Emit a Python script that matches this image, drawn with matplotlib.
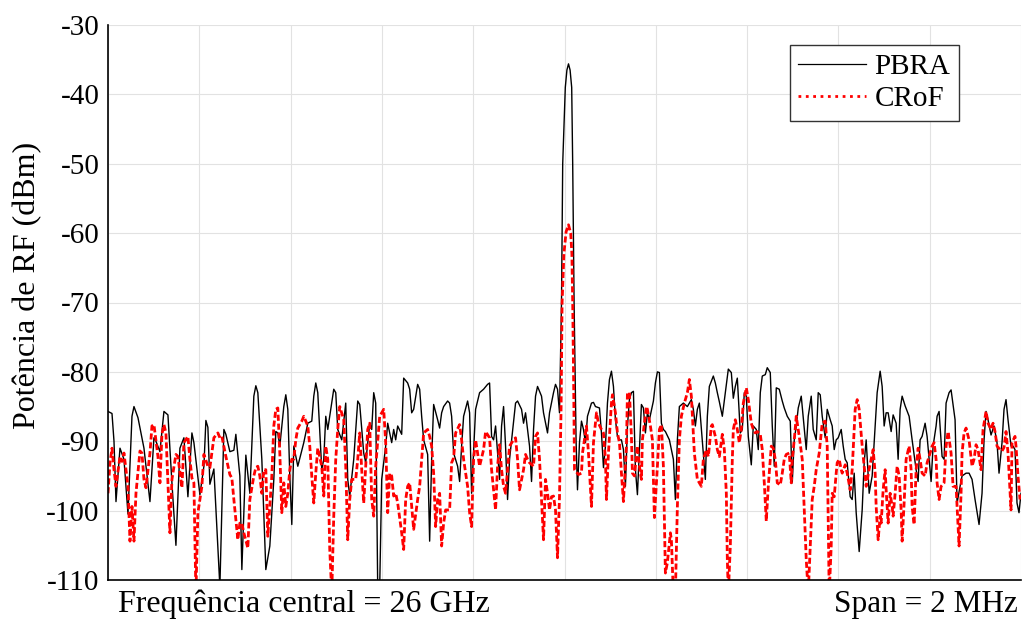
import numpy as np
import matplotlib
matplotlib.use('Agg')
import matplotlib.pyplot as plt
from matplotlib.lines import Line2D

plt.rcParams['font.family'] = ['Liberation Serif', 'DejaVu Serif']
plt.rcParams['axes.unicode_minus'] = False

# Varredura de 457 pontos em 2 MHz de span (centro 26 GHz)
n_pts = 457
span_mhz = 2.0

# PBRA: ponto da varredura / potência (dBm)
pbra_pt = [0, 2, 3, 4, 6, 8, 10, 12, 13, 15, 17, 18, 21, 23, 24, 26, 28, 30, 32, 34,
           36, 38, 40, 42, 43, 46, 48, 49, 50, 51, 53, 56, 58, 59, 61, 63, 64, 66, 67, 69,
           71, 73, 74, 75, 77, 79, 81, 83, 84, 85, 86, 88, 89, 90, 91, 92, 93, 95, 98, 100,
           102, 103, 104, 105, 107, 108, 109, 110, 111, 113, 114, 115, 117, 119, 120, 121, 123, 125, 126, 128,
           129, 131, 132, 133, 134, 135, 136, 137, 139, 140, 142, 143, 144, 145, 147, 148, 150, 151, 152, 153,
           155, 156, 157, 158, 160, 161, 162, 163, 165, 166, 167, 168, 170, 171, 172, 173, 175, 176, 177, 178,
           180, 181, 182, 184, 186, 188, 190, 191, 192, 193, 194, 196, 197, 198, 199, 200, 201, 203, 204, 205,
           207, 208, 209, 211, 212, 213, 214, 215, 217, 218, 220, 221, 223, 224, 225, 226, 227, 227.6, 228.9, 229.7,
           230.5, 231.3, 232.1, 232.6, 233.3, 234.3, 235, 236, 237, 238, 239, 240, 242, 243, 244, 246, 247, 248, 249, 250, 251, 252,
           253, 254, 255, 256, 257, 258, 259, 260, 261, 262, 263, 264, 265, 267, 268, 269, 270, 271, 273, 274,
           275, 276, 277, 278, 279, 281, 283, 284, 285, 286, 288, 290, 291, 292, 293, 294, 295, 296, 298, 299,
           300, 301, 303, 304, 305, 306, 307.5, 309, 310.5, 312, 313, 314, 315, 316.5, 317.5, 318.5, 319.5, 320.5, 322, 323,
           324.5, 325.5, 326.5, 327.5, 329, 330, 331.5, 332.5, 333.5, 334.5, 336, 337.5, 338.5, 340, 341.5, 342.5, 343.5, 344.5, 345.5, 347,
           348, 349.5, 350.5, 352, 353, 354.5, 355.5, 356.5, 357.5, 359, 360, 361.5, 362.5, 363.5, 364.5, 365.5, 367, 368, 369, 370,
           371.5, 372.5, 373.5, 374.5, 376, 377.5, 378.5, 379.5, 381, 382.5, 384, 385, 386.5, 387.5, 388.5, 389.5, 390.5, 392, 393, 394.5,
           395.5, 396.5, 397.5, 399, 401, 402.5, 404.5, 405.5, 406.5, 407.5, 409, 410, 412, 413, 414.5, 415, 416, 417.5, 418.5, 419.5,
           421, 422, 424, 425, 426.5, 427.5, 429.5, 431, 432.5, 434, 436, 437.5, 438.5, 439.5, 440.5, 442, 443.5, 445, 446, 447.5,
           448.5, 449.5, 450.5, 452, 453, 454, 455, 456, 457]
pbra_dbm = [-85.7, -86.0, -90, -98.7, -91, -92.6, -100.5, -86.4, -85, -86.6, -89.5, -91, -98.7, -89.5, -90, -91.5, -85.7, -86.2, -96, -105,
            -91, -89.5, -98, -88.8, -90.2, -97.7, -93.6, -87, -88, -96.2, -94, -111, -88.3, -89, -91.5, -91.3, -89, -95, -108.5, -92,
            -97.5, -83.5, -82, -83.0, -92.6, -108.5, -105.1, -95.5, -88.6, -88.8, -90.7, -85, -83.3, -85.4, -95, -102, -90.7, -93.6, -90.2, -87.4,
            -87.1, -83.5, -81.6, -83, -94.1, -92.6, -86.4, -88.3, -86.4, -82.5, -83, -88.3, -89.8, -84.5, -95.5, -97.9, -92.6, -84.2, -84.7, -91.7,
            -93.1, -87.4, -88.3, -83, -84.5, -111, -111, -95.5, -90.7, -87.4, -90.2, -88.3, -89.8, -87.8, -89, -80.9, -81.6, -82.5, -85.9, -85.4,
            -81.8, -82.5, -86.4, -89.8, -91.9, -104.4, -92.6, -84.7, -86.9, -88.1, -85.9, -85, -84.2, -84.5, -86.4, -91.7, -93.6, -95.8, -90.7, -86.4,
            -84.2, -85.9, -97.5, -85.4, -83, -82.5, -81.8, -81.6, -89.3, -89.8, -87.8, -95.5, -87.8, -85, -90.7, -98.4, -92.6, -87.1, -84.5, -84.2,
            -85.4, -87.4, -85.9, -90.7, -95.8, -88.3, -83.5, -82.1, -83.5, -85.9, -88.8, -85.9, -83, -81.8, -82.5, -85.9, -70, -50, -39, -36.5,
            -35.6, -36.5, -39, -50, -70, -90, -97, -90.2, -87.1, -88.3, -90.2, -86.4, -84.5, -84.4, -85, -85.2, -88.8, -93.8, -90.7, -84.5, -81.1, -79.9,
            -82.1, -86.9, -89.3, -89.8, -89.8, -91.2, -96.5, -87.8, -84, -83, -82.8, -94.1, -97.7, -84.7, -85.2, -88.8, -85.9, -86.9, -84.2, -81.6,
            -80, -80.1, -87.4, -88.3, -88.6, -89.8, -92.6, -98.4, -89.8, -85, -84.5, -85, -84.5, -84, -85.4, -87.8, -85.4, -84.5, -91.7, -95.5,
            -86.4, -82.1, -80.6, -81.6, -83, -84.3, -86.4, -83, -79.6, -80.1, -83.8, -82.1, -80.9, -88.8, -88.3, -83, -83.5, -89.3, -93.4, -87.8,
            -88.3, -91.2, -83, -80.6, -80.4, -79.4, -80.1, -87.8, -93.6, -82.3, -82.5, -84.2, -85.2, -86.4, -87.1, -96, -89.8, -87.8, -85.2, -83.5,
            -86.6, -91.2, -86.4, -83.5, -88.3, -89.8, -83, -83.3, -86.4, -89.5, -85.4, -86.9, -87.8, -91.2, -89.8, -89.5, -88.3, -90.7, -92.6, -93.1,
            -98, -98.4, -94.6, -100.3, -105.9, -99.9, -93.1, -89.8, -97.5, -95, -87.8, -83, -79.9, -82.1, -87.8, -85.9, -85.9, -88.6, -86.2, -87.4,
            -92.6, -85.4, -83.5, -84.9, -86.4, -89.8, -94.1, -95.8, -89.8, -89.3, -87.4, -89.3, -95.8, -90.7, -87.8, -86.4, -85.7, -92.2, -92.6, -84.5,
            -83, -82.6, -86.9, -98.9, -96.5, -95, -94.6, -94.6, -95.5, -98.4, -102, -97.5, -89.8, -85.7, -86.9, -89.1, -87.8, -90.2, -94.6, -90.2,
            -85.4, -84, -86.9, -90.7, -90.7, -91.2, -98.9, -100.3, -97.5]

# CRoF: ponto da varredura / potência (dBm)
crof_pt = [0, 1, 2, 3, 4, 6, 7, 8, 10, 11, 12, 13, 14, 16, 17, 18, 19, 21, 22, 23,
           25, 26, 27, 28, 29, 31, 32, 34, 35, 37, 38, 40, 41, 42, 43, 44, 45, 47, 48, 50,
           51, 53, 55, 56, 57, 59, 61, 62, 63, 65, 66, 67, 68, 70, 71, 73, 74, 75, 76, 77,
           78, 79, 80, 81, 82, 83, 84, 85, 86, 87, 88, 89, 90, 91, 92, 93, 94, 95, 97, 98,
           100, 101, 102, 103, 104, 105, 107, 108, 109, 110, 111, 112, 113, 114, 115, 116, 118, 119, 120, 121,
           122, 124, 125, 126, 127, 128, 130, 131, 132, 133, 134, 136, 138, 139, 140, 141, 142, 143, 144, 145,
           147, 148, 149, 150, 151, 152, 153, 155, 156, 157, 158, 160, 161, 162, 163, 164, 165, 166, 167, 168,
           169, 171, 172, 173, 174, 176, 177, 178, 180, 181, 182, 183, 184, 185, 186, 188, 189, 191, 192, 194,
           195, 196, 197, 198, 199, 200, 201, 203, 204, 205, 206, 208, 209, 210, 211, 213, 214, 215, 216, 218,
           219, 220, 221, 222, 223, 224, 225, 226, 226.8, 227.3, 228.2, 229.3, 230.5, 231.6, 232.2, 232.6, 233.1, 233.5, 235.5, 237, 237.5, 239,
           239.5, 240.5, 242, 243, 244.5, 245.5, 247, 248, 249, 249.5, 250.5, 252, 252.5, 254, 255, 256, 257, 258, 259.5, 260,
           261, 262, 262.5, 263.5, 264.5, 265, 266, 267, 267.5, 269.5, 270, 271.5, 272.5, 273.5, 275, 276, 277, 278, 279, 280,
           281.5, 282, 283, 284, 285, 286, 287, 288.5, 290, 291, 292, 293.5, 295, 296, 297, 298, 299.5, 300.5, 302, 302.5,
           304, 305, 306, 307.5, 308.5, 309.5, 310, 310.5, 311.5, 312.5, 313, 314, 315, 316, 317, 318, 319.5, 320.5, 322, 323,
           324, 325, 326.5, 327.5, 328.5, 329.5, 330.5, 332, 333, 334, 335, 336.5, 337.5, 338.5, 339.5, 341, 342, 342.5, 343.5, 344.5,
           346, 347.5, 348.5, 349.5, 350.5, 351.5, 352.5, 353.5, 354.5, 356, 357.5, 359, 360, 361, 362, 362.5, 363.5, 364.5, 365, 366,
           367, 367.5, 369, 370, 371.5, 372.5, 374, 375, 376, 377.5, 378.5, 379.5, 381, 383, 384, 384.5, 385.5, 386.5, 387, 388,
           389, 389.5, 390.5, 391.5, 392.5, 393, 394, 395, 396, 397, 397.5, 398.5, 399.5, 401, 402, 402.5, 403.5, 404.5, 405.5, 406.5,
           407.5, 409, 410, 411.5, 412.5, 413.5, 414.5, 415, 416, 417, 418.5, 419.5, 420.5, 422, 423, 424.5, 426, 427, 427.5, 428.5,
           429.5, 431, 432.5, 433.5, 434.5, 435.5, 437, 438, 439.5, 440.5, 442, 443, 444, 445, 446.5, 447.5, 448.5, 449.5, 450.5, 452,
           452.5, 454, 454.5, 455.5, 456.5]
crof_dbm = [-97.5, -93.1, -91, -94.1, -96.5, -92.2, -92.9, -91.7, -96.5, -104.4, -99.4, -104.4, -97.5, -91.4, -91.7, -95.5, -96.7, -91.7, -87.8, -87.6,
            -92.2, -96, -89, -87.6, -88.8, -103.2, -95.5, -91.9, -92.2, -96.7, -90.2, -89.3, -92.6, -95.3, -96, -112, -100.3, -96.5, -91.9, -93.6,
            -93.8, -89.5, -88.8, -89.5, -89.3, -92.2, -94.8, -95.3, -98.4, -104.2, -101.8, -101.8, -103.2, -105.4, -98.4, -95, -93.8, -93.6, -95, -97.5,
            -94.1, -94.1, -103.7, -99.4, -95, -87.8, -85.4, -85.2, -91.7, -100.3, -96, -99.4, -97.5, -94.1, -92.6, -92.6, -89.8, -88.1, -87.1, -86.4,
            -87.8, -90.7, -95, -98.9, -94.6, -91, -93.6, -97.9, -90.7, -92.6, -105.6, -112, -100.8, -92.6, -88.3, -85, -86.9, -93.6, -104.2, -98.4,
            -95.5, -95.5, -92.6, -88.8, -94.1, -98.9, -88.3, -87.4, -98.4, -100.8, -93.6, -86.4, -85.4, -90.2, -100.3, -94.6, -95, -97.9, -97.5, -98.9,
            -103.2, -105.6, -98.4, -96.5, -96, -99.4, -102.7, -98.4, -96.5, -92.6, -88.8, -88.3, -89.3, -90.7, -94.6, -102.3, -98.4, -97.5, -105.1, -101.8,
            -99.9, -99.9, -93.1, -92.4, -88.8, -87.6, -89.8, -92.6, -96.5, -100.3, -102.3, -92.6, -89.8, -91.7, -93.6, -91.2, -88.6, -89.5, -94.1, -99.9,
            -93.6, -90.5, -94.1, -96.5, -97.5, -94.1, -90.7, -89.8, -89.5, -92.6, -97, -94.1, -91.9, -92.6, -93.1, -93.6, -89.3, -88.8, -92.6, -104.2,
            -95.5, -97.5, -99.9, -98, -97.9, -99.9, -106.8, -98, -85, -70, -63, -59.8, -58.8, -60, -63, -70, -82, -94.1, -94.8, -94.6, -91.7, -88.8,
            -87.8, -91.7, -99.4, -90.2, -85.9, -87.4, -88.3, -88.8, -92.6, -98.4, -91.7, -84.5, -83.3, -85.9, -88.8, -90.2, -94.6, -98.7, -90.7, -83,
            -83, -89.3, -94.6, -95, -92.2, -90.7, -93.6, -95.5, -89.8, -85, -85.4, -87.8, -89.8, -101, -93.6, -88.3, -87.6, -93.6, -109, -107.5,
            -103.2, -104.2, -112, -112, -99.4, -89.8, -86.4, -84.5, -83, -81.1, -83.5, -91.7, -95.5, -96, -96.5, -92.6, -91.2, -92.2, -87.8, -87.6,
            -89.3, -91.2, -92.2, -89, -91.2, -97.5, -107, -112, -105.1, -92.6, -88.3, -86.9, -88.3, -90.2, -88.3, -84.5, -82.3, -84, -87.4, -88.3,
            -88.8, -88.6, -89, -91.2, -96, -101.5, -96.5, -90.7, -91, -92.6, -96, -96.3, -94.6, -92.6, -91.9, -91.7, -96, -92.6, -89.8, -86.4,
            -89.3, -92.6, -99.9, -107, -112, -105.1, -98.4, -96.5, -94.1, -91.7, -87.4, -87.1, -90.7, -112, -105.1, -97.5, -98, -94.6, -93.1, -92.6,
            -94.1, -94.6, -93.4, -94.6, -97, -94.1, -85.4, -84, -85.4, -90.7, -93.6, -96.5, -94, -91.2, -94.6, -99.4, -104.2, -100.8, -101.8, -97,
            -94.1, -97, -101.8, -97.5, -99.4, -100.8, -97.5, -93.6, -95, -99.9, -104.4, -98.9, -92.6, -90.7, -94.1, -99.4, -102, -94.1, -91, -92.6,
            -94.6, -95, -93.1, -91.7, -90.7, -90.2, -92.6, -96, -98.4, -96.5, -96, -90.7, -88.6, -91.7, -96.5, -96.5, -105.1, -97.5, -91.7, -88.8,
            -88.1, -89.8, -93.6, -92.6, -90.5, -91.2, -94.1, -88.3, -85.7, -87.4, -88.3, -87.4, -88.6, -90.7, -91.2, -91.4, -90.9, -88.6, -91.7, -99.9,
            -90.2, -89.3, -90.7, -95, -98.4]


def to_mhz(pts):
    """converte ponto da varredura em deslocamento de frequência (MHz)"""
    return np.asarray(pts, dtype=float) / n_pts * span_mhz - span_mhz / 2


fig = plt.figure(figsize=(10.22, 6.21), dpi=100)
ax = fig.add_axes([108 / 1022, 41 / 621, 913 / 1022, 555 / 621])

ax.plot(to_mhz(pbra_pt), pbra_dbm, color='black', linewidth=1.0, label='PBRA')
ax.plot(to_mhz(crof_pt), crof_dbm, color='#ff0000', linewidth=2.0,
        linestyle=(0, (2.2, 1.0)), label='CRoF')

ax.set_xlim(-span_mhz / 2, span_mhz / 2)
ax.set_ylim(-110, -30)
ax.set_xticks(np.linspace(-1, 1, 11))
ax.set_xticklabels([])
ax.set_yticks(np.arange(-110, -29, 10))
ax.tick_params(axis='y', labelsize=21, length=0, pad=6)
ax.tick_params(axis='x', length=0)
ax.grid(True, color='#e2e2e2', linewidth=0.8)
ax.set_axisbelow(True)
for side in ['top', 'right']:
    ax.spines[side].set_visible(False)
for side in ['left', 'bottom']:
    ax.spines[side].set_linewidth(1.2)
    ax.spines[side].set_color('black')

ax.set_ylabel('Potência de RF (dBm)', fontsize=23)
ax.yaxis.set_label_coords(-0.072, 0.53)

handles = [Line2D([], [], color='black', linewidth=0.9),
           Line2D([], [], color='#ff0000', linewidth=2.0, linestyle=':')]
leg = ax.legend(handles, ['PBRA', 'CRoF'], loc='upper right',
                bbox_to_anchor=(0.932, 0.964), fontsize=21, frameon=True,
                fancybox=False, edgecolor='#333333', framealpha=1,
                handlelength=2.3, handletextpad=0.3, borderpad=0.3,
                labelspacing=0.2, borderaxespad=0)
leg.get_frame().set_linewidth(1.0)

fig.text(118 / 1022, 2 / 621, 'Frequência central = 26 GHz', fontsize=23,
         ha='left', va='bottom')
fig.text(1018 / 1022, 2 / 621, 'Span = 2 MHz', fontsize=22.5,
         ha='right', va='bottom')

fig.savefig('out.png', dpi=100)
